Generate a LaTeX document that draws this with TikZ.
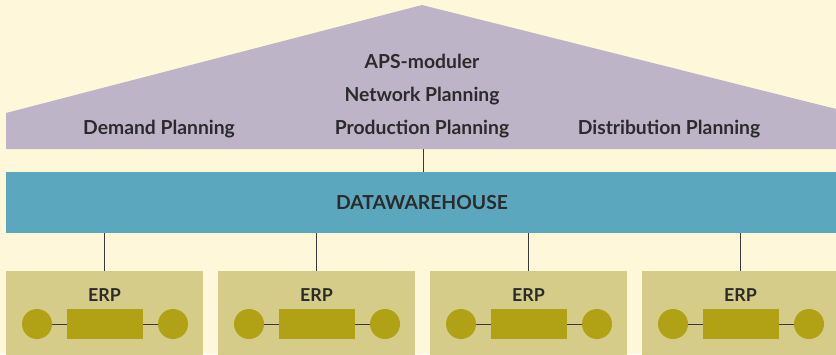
\documentclass[tikz,border=0pt]{standalone}
\usepackage{fontspec}
\setmainfont{Lato}
\definecolor{bgc}{HTML}{FEF7D9}
\definecolor{roofc}{HTML}{BEB4C8}
\definecolor{dwc}{HTML}{5BA7BD}
\definecolor{erpc}{HTML}{D4CC88}
\definecolor{itemc}{HTML}{B0A214}
\definecolor{txtc}{HTML}{2B2B2B}
\definecolor{linec}{HTML}{3A3A3A}
\tikzset{
  lbl/.style={anchor=base, text=txtc, font=\fontsize{19.3}{23}\selectfont\bfseries, inner sep=0pt},
  erplbl/.style={lbl, font=\fontsize{17.8}{21}\selectfont\bfseries},
  conn/.style={draw=linec, line width=1pt},
  erpbox/.style={fill=erpc, minimum width=197pt, minimum height=90pt, anchor=north west, inner sep=0pt},
  dot/.style={circle, fill=itemc, minimum size=30pt, inner sep=0pt},
  bar/.style={rectangle, fill=itemc, minimum width=76pt, minimum height=30pt, inner sep=0pt},
  thin/.style={draw=linec, line width=0.9pt}
}
\begin{document}
\begin{tikzpicture}[x=1pt,y=-1pt]
\useasboundingbox (0,0) rectangle (836,354);
\fill[bgc] (0,0) rectangle (836,354);
% roof
\fill[roofc] (6,149) -- (6,113) -- (422,5) -- (840,110) -- (840,149) -- cycle;
\coordinate (roofb) at (423,149);
\node[lbl] (aps) at (422,68) {APS-moduler};
\node[lbl] (net) at (422,101) {Network Planning};
\node[lbl] (prod) at (422,134) {Production Planning};
\node[lbl] (dem) at (159,134) {Demand Planning};
\node[lbl] (dist) at (669,134) {Distribution Planning};
% datawarehouse
\node[fill=dwc, minimum width=834pt, minimum height=61pt, inner sep=0pt, anchor=north west] (dw) at (6,172) {};
\node[lbl] (dwt) at (422,209) {DATAWAREHOUSE};
\draw[conn] (roofb) -- (roofb |- dw.north);
% ERP boxes
\foreach \i/\x in {1/6, 2/218, 3/430, 4/642} {
  \node[erpbox] (box\i) at (\x,271) {};
  \node[erplbl] (erp\i) at (\x+98.5,301) {ERP};
  \node[dot] (cl\i) at (\x+31,324) {};
  \node[dot] (cr\i) at (\x+167,324) {};
  \node[bar] (r\i) at (\x+99,324) {};
  \draw[thin] (cl\i) -- (r\i);
  \draw[thin] (r\i) -- (cr\i);
  \draw[conn] (box\i.north -| erp\i) -- (erp\i |- dw.south);
}
\end{tikzpicture}
\end{document}
